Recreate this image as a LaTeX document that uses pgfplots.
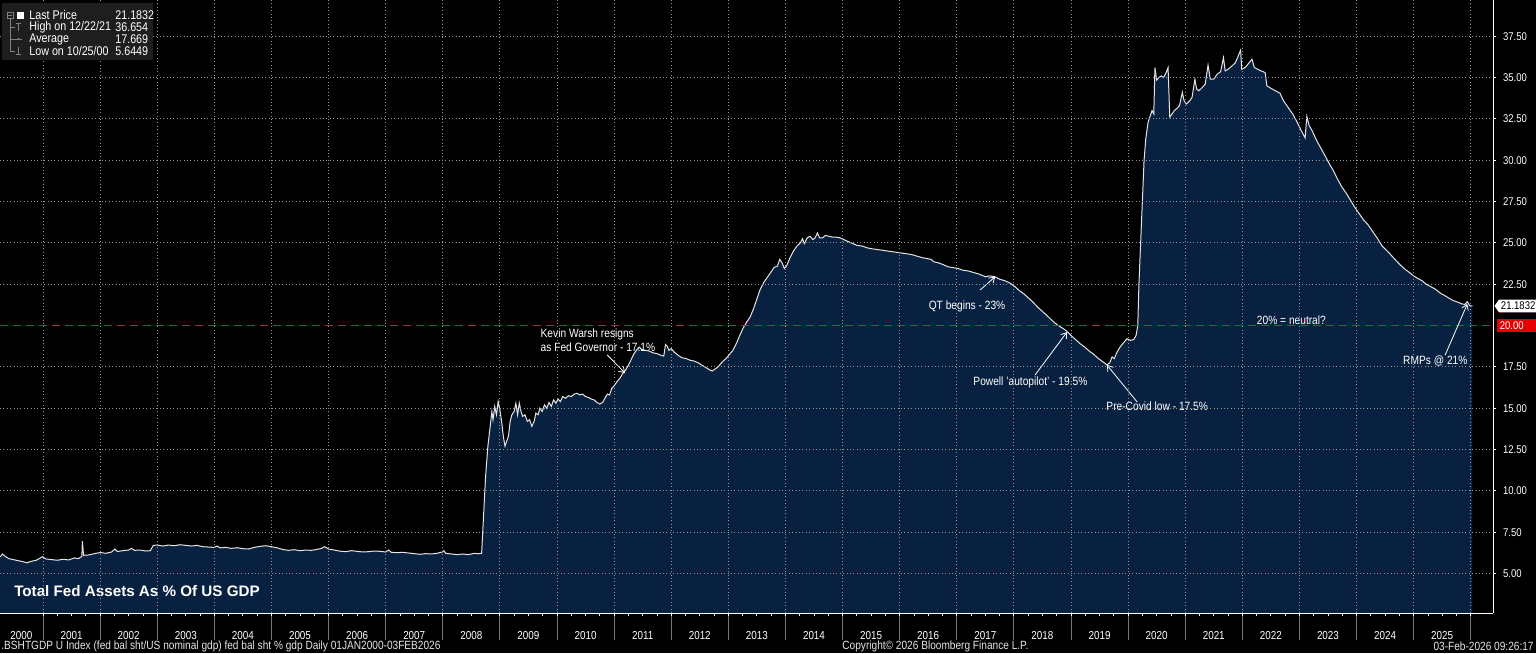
\documentclass[border=0pt]{standalone}
\usepackage{pgfplots}
\pgfplotsset{compat=1.18}
\usepackage{pgfplotstable}
\usepackage{fontspec}
\setmainfont{Liberation Sans}[FakeStretch=0.85]
\newfontfamily\titlefont{Liberation Sans}
\usetikzlibrary{arrows.meta,shapes.symbols}

\definecolor{navy}{RGB}{9,33,64}
\definecolor{gridc}{RGB}{150,150,150}
\definecolor{sepc}{RGB}{120,120,120}
\definecolor{dashred}{RGB}{175,40,62}
\definecolor{boxred}{RGB}{230,0,0}
\definecolor{legbg}{RGB}{30,30,30}
\definecolor{linec}{RGB}{228,228,228}

\tikzset{
    ann/.style={white, font=\fontsize{6}{7}\selectfont, inner sep=0.5pt},
    annarrow/.style={white, line width=0.4pt, -{Straight Barb[length=2.5pt,width=3.5pt]}},
}

% Fed assets as % of GDP (year, percent)
\pgfplotstableread{
year val
2000.25 6.00
2000.29 6.18
2000.33 6.05
2000.40 5.90
2000.48 5.84
2000.56 5.78
2000.64 5.72
2000.72 5.65
2000.80 5.74
2000.88 5.80
2000.95 5.93
2000.99 6.02
2001.05 5.88
2001.15 5.84
2001.25 5.80
2001.35 5.86
2001.45 5.82
2001.55 5.94
2001.62 5.90
2001.68 6.03
2001.69 6.95
2001.71 6.10
2001.80 6.12
2001.90 6.20
2002.00 6.27
2002.10 6.22
2002.20 6.30
2002.26 6.48
2002.30 6.33
2002.40 6.38
2002.50 6.42
2002.55 6.52
2002.60 6.40
2002.70 6.42
2002.80 6.36
2002.88 6.38
2002.93 6.70
2003.00 6.72
2003.10 6.66
2003.20 6.72
2003.30 6.68
2003.40 6.74
2003.50 6.70
2003.60 6.66
2003.70 6.70
2003.80 6.62
2003.90 6.60
2004.00 6.58
2004.05 6.66
2004.10 6.55
2004.20 6.58
2004.30 6.52
2004.40 6.56
2004.50 6.50
2004.60 6.48
2004.70 6.58
2004.80 6.64
2004.90 6.68
2005.00 6.62
2005.10 6.55
2005.20 6.45
2005.30 6.40
2005.40 6.44
2005.50 6.38
2005.60 6.42
2005.70 6.40
2005.80 6.46
2005.88 6.52
2005.93 6.62
2006.00 6.48
2006.10 6.42
2006.20 6.35
2006.30 6.32
2006.40 6.38
2006.50 6.34
2006.60 6.30
2006.70 6.32
2006.80 6.36
2006.90 6.34
2007.00 6.30
2007.05 6.42
2007.10 6.28
2007.20 6.26
2007.30 6.28
2007.40 6.24
2007.50 6.20
2007.60 6.16
2007.70 6.20
2007.80 6.18
2007.90 6.22
2007.99 6.30
2008.02 6.38
2008.05 6.22
2008.15 6.18
2008.25 6.14
2008.35 6.18
2008.45 6.14
2008.55 6.22
2008.62 6.20
2008.68 6.22
2008.71 8.20
2008.75 10.9
2008.79 12.7
2008.83 13.9
2008.86 14.8
2008.88 14.3
2008.91 15.1
2008.94 14.6
2008.97 15.4
2009.00 14.9
2009.03 14.2
2009.06 13.3
2009.09 12.7
2009.12 13.0
2009.15 13.3
2009.18 14.2
2009.21 14.6
2009.25 14.8
2009.28 15.3
2009.31 14.6
2009.34 15.3
2009.37 14.8
2009.40 14.5
2009.44 14.6
2009.48 14.2
2009.52 14.3
2009.56 13.9
2009.60 14.2
2009.63 14.7
2009.67 14.6
2009.70 15.0
2009.74 14.8
2009.78 15.2
2009.82 15.0
2009.86 15.35
2009.90 15.1
2009.94 15.5
2009.98 15.3
2010.02 15.55
2010.06 15.4
2010.10 15.7
2010.15 15.6
2010.20 15.75
2010.25 15.7
2010.30 15.85
2010.35 15.9
2010.40 15.8
2010.45 15.85
2010.50 15.7
2010.55 15.65
2010.60 15.55
2010.65 15.5
2010.70 15.35
2010.75 15.25
2010.80 15.35
2010.84 15.6
2010.88 15.85
2010.92 15.8
2010.96 16.2
2011.00 16.35
2011.05 16.6
2011.10 16.8
2011.15 17.1
2011.20 17.3
2011.25 17.6
2011.30 17.95
2011.35 18.3
2011.40 18.55
2011.44 18.7
2011.48 18.55
2011.55 18.5
2011.62 18.45
2011.68 18.35
2011.75 18.3
2011.82 18.2
2011.87 18.15
2011.90 18.85
2011.93 18.75
2011.96 18.5
2012.00 18.6
2012.05 18.4
2012.12 18.2
2012.19 18.05
2012.26 18.0
2012.33 17.9
2012.40 17.85
2012.47 17.75
2012.54 17.6
2012.61 17.45
2012.68 17.3
2012.72 17.25
2012.76 17.35
2012.82 17.5
2012.87 17.7
2012.91 17.85
2012.96 18.0
2013.02 18.25
2013.08 18.5
2013.14 18.9
2013.20 19.4
2013.26 19.85
2013.32 20.2
2013.38 20.5
2013.44 21.0
2013.50 21.6
2013.56 22.2
2013.62 22.6
2013.68 22.9
2013.74 23.2
2013.80 23.5
2013.86 23.6
2013.90 24.0
2013.94 23.8
2013.98 23.45
2014.02 23.6
2014.08 24.1
2014.14 24.5
2014.20 24.8
2014.26 25.0
2014.30 25.25
2014.33 24.95
2014.38 25.3
2014.43 25.4
2014.48 25.2
2014.52 25.3
2014.56 25.6
2014.60 25.3
2014.65 25.3
2014.70 25.45
2014.76 25.4
2014.82 25.35
2014.88 25.35
2014.96 25.3
2015.05 25.15
2015.15 25.0
2015.25 24.85
2015.35 24.8
2015.43 24.7
2015.50 24.65
2015.60 24.6
2015.70 24.55
2015.80 24.5
2015.90 24.45
2016.00 24.4
2016.10 24.35
2016.20 24.3
2016.30 24.2
2016.40 24.1
2016.48 24.05
2016.55 24.0
2016.60 23.85
2016.67 23.8
2016.75 23.7
2016.85 23.55
2016.94 23.5
2017.02 23.45
2017.10 23.35
2017.20 23.3
2017.30 23.2
2017.40 23.1
2017.50 22.95
2017.58 23.0
2017.67 22.95
2017.75 22.8
2017.85 22.7
2017.94 22.55
2018.02 22.35
2018.10 22.1
2018.18 21.9
2018.26 21.65
2018.34 21.4
2018.42 21.1
2018.50 20.85
2018.58 20.6
2018.64 20.4
2018.72 20.15
2018.80 19.95
2018.87 19.8
2018.93 19.65
2019.00 19.4
2019.08 19.15
2019.16 18.9
2019.24 18.7
2019.32 18.45
2019.40 18.25
2019.48 18.0
2019.56 17.8
2019.63 17.62
2019.68 17.75
2019.72 18.1
2019.76 18.0
2019.80 18.35
2019.86 18.7
2019.92 18.95
2019.98 19.2
2020.04 19.1
2020.10 19.15
2020.14 19.4
2020.17 20.0
2020.19 22.5
2020.22 25.0
2020.25 27.5
2020.28 30.0
2020.31 31.3
2020.35 32.3
2020.39 32.7
2020.42 33.0
2020.45 32.8
2020.47 35.6
2020.50 34.85
2020.54 35.0
2020.58 35.1
2020.62 35.0
2020.66 35.25
2020.70 35.6
2020.73 32.6
2020.77 32.8
2020.81 33.0
2020.86 33.15
2020.90 33.3
2020.95 34.1
2020.98 33.6
2021.02 33.4
2021.08 33.6
2021.12 33.8
2021.17 34.9
2021.20 34.3
2021.24 34.2
2021.30 34.4
2021.35 34.6
2021.40 35.75
2021.44 34.9
2021.50 34.9
2021.56 35.2
2021.62 35.35
2021.67 36.2
2021.70 35.4
2021.75 35.5
2021.82 35.7
2021.88 35.9
2021.97 36.65
2021.99 35.5
2022.05 35.6
2022.12 35.9
2022.17 36.1
2022.21 35.6
2022.27 35.5
2022.33 35.4
2022.40 35.3
2022.43 34.5
2022.50 34.35
2022.58 34.2
2022.66 34.05
2022.72 33.6
2022.80 33.2
2022.89 32.75
2022.96 32.3
2023.03 31.8
2023.10 31.35
2023.13 32.65
2023.17 32.1
2023.22 31.8
2023.30 31.2
2023.38 30.7
2023.46 30.2
2023.52 29.8
2023.59 29.4
2023.66 28.9
2023.74 28.4
2023.82 28.0
2023.89 27.6
2023.96 27.2
2024.04 26.8
2024.12 26.4
2024.20 26.1
2024.28 25.7
2024.36 25.3
2024.45 24.8
2024.54 24.5
2024.62 24.2
2024.70 23.9
2024.77 23.65
2024.85 23.4
2024.93 23.2
2025.00 23.0
2025.07 22.85
2025.15 22.7
2025.22 22.5
2025.30 22.35
2025.38 22.2
2025.47 21.95
2025.55 21.8
2025.62 21.65
2025.70 21.5
2025.78 21.4
2025.85 21.3
2025.90 21.28
2025.94 21.45
2025.98 21.2
2026.03 21.18
}\fedgdp

\begin{document}
\begin{tikzpicture}
\fill[black] (0,-20pt) rectangle (768pt,306.5pt);
\useasboundingbox (0,-20pt) rectangle (768pt,306.5pt);
% x axis runs in years since 2000
\begin{axis}[
    at={(0,0)}, anchor=south west,
    scale only axis, width=746.5pt, height=306.5pt,
    xmin=0.247, xmax=26.39, ymin=2.61, ymax=39.69,
    axis x line*=bottom, axis y line*=right,
    axis line style={white, line width=0.5pt, -},
    axis on top,
    clip mode=individual,
    xtick={1,...,26}, xticklabels={},
    minor x tick num=3,
    ytick={5,7.5,10,12.5,15,17.5,22.5,25,27.5,30,32.5,35,37.5},
    minor y tick num=1,
    grid=major,
    major grid style={gridc, line width=0.4pt, dash pattern=on 0.5pt off 1.2pt},
    tick align=outside,
    major tick length=1.5pt, minor tick length=1.5pt,
    tick style={white, line width=0.4pt},
    yticklabel style={/pgf/number format/.cd, fixed, fixed zerofill, precision=2, assume math mode=true,
        /tikz/.cd, font=\fontsize{5.6}{6}\selectfont, white},
    xticklabel style={font=\fontsize{5.8}{6}\selectfont, white, yshift=-4pt},
    extra x ticks={0.62,1.5,2.5,3.5,4.5,5.5,6.5,7.5,8.5,9.5,10.5,11.5,12.5,
        13.5,14.5,15.5,16.5,17.5,18.5,19.5,20.5,21.5,22.5,23.5,24.5,25.5},
    extra x tick labels={2000,2001,2002,2003,2004,2005,2006,2007,2008,2009,2010,2011,2012,
        2013,2014,2015,2016,2017,2018,2019,2020,2021,2022,2023,2024,2025},
    extra x tick style={grid=none, tick style={draw=none}},
]
\addplot[fill=navy, draw=none, forget plot] table[x expr=\thisrow{year}-2000, y=val]{\fedgdp} \closedcycle;
\addplot[linec, line width=0.5pt] table[x expr=\thisrow{year}-2000, y=val]{\fedgdp};
\addplot[color=dashred, line width=0.8pt, dash pattern=on 4pt off 2.5pt] coordinates {(0.247,20) (26.39,20)};

% year separators below the axis
\pgfplotsinvokeforeach{1,...,26}{\draw[sepc, line width=0.4pt] (axis cs:#1,2.61) -- ++(0pt,-13.5pt);}

% title and annotations
\node[anchor=west, inner sep=0pt, white, font=\titlefont\bfseries\fontsize{7.6}{8}\selectfont] at (axis cs:0.49,3.94) {Total Fed Assets As \% Of US GDP};
\node[ann, anchor=west, align=left] at (axis cs:9.69,19.1) {Kevin Warsh resigns\\as Fed Governor - 17.1\%};
\draw[annarrow] (axis cs:10.88,18.22) -- (axis cs:11.19,17.13);
\node[ann] at (axis cs:17.18,21.18) {QT begins - 23\%};
\draw[annarrow] (axis cs:17.41,22.15) -- (axis cs:17.67,22.94);
\node[ann] at (axis cs:18.29,16.58) {Powell 'autopilot' - 19.5\%};
\draw[annarrow] (axis cs:18.37,17.0) -- (axis cs:18.93,19.6);
\node[ann] at (axis cs:20.51,15.13) {Pre-Covid low - 17.5\%};
\draw[annarrow] (axis cs:20.16,15.37) -- (axis cs:19.63,17.61);
\node[ann] at (axis cs:22.86,20.34) {20\% = neutral?};
\node[ann] at (axis cs:25.38,17.86) {RMPs @ 21\%};
\draw[annarrow] (axis cs:25.55,18.2) -- (axis cs:25.94,21.3);

% right-hand value tags
\node[signal, signal to=west, signal pointer angle=110, fill=white, text=black, inner xsep=1pt, inner ysep=1.2pt,
    font=\fontsize{5.6}{6}\selectfont, anchor=west] at ([xshift=0.5pt]axis cs:26.39,21.1832) {21.1832};
\node[fill=boxred, text=white, inner xsep=1.2pt, inner ysep=1.2pt, text width=17.5pt, align=left,
    font=\fontsize{5.6}{6}\selectfont, anchor=west] at ([xshift=2pt]axis cs:26.39,20) {20.00};
\end{axis}

% legend box, top left
\fill[legbg] (1pt,305pt) rectangle (76.5pt,276.5pt);
\begin{scope}[font=\fontsize{6.3}{7}\selectfont, white, inner sep=0pt]
\node[anchor=west] at (14.5pt,299pt) {Last Price};
\node[anchor=west] at (57.5pt,299pt) {21.1832};
\node[anchor=west] at (14.5pt,293pt) {High on 12/22/21};
\node[anchor=west] at (57.5pt,293pt) {36.654};
\node[anchor=west] at (14.5pt,287pt) {Average};
\node[anchor=west] at (57.5pt,287pt) {17.669};
\node[anchor=west] at (14.5pt,281pt) {Low on 10/25/00};
\node[anchor=west] at (57.5pt,281pt) {5.6449};
\end{scope}
\draw[gray, line width=0.3pt] (3.5pt,297.5pt) rectangle (6.5pt,300.5pt);
\draw[gray, line width=0.3pt] (4.2pt,299pt) -- (5.8pt,299pt);
\fill[white] (8.5pt,297.2pt) rectangle (12pt,300.7pt);
\draw[gray, line width=0.3pt] (5pt,297.5pt) -- (5pt,281pt);
\draw[gray, line width=0.3pt] (5pt,293pt) -- (7.5pt,293pt) (5pt,287pt) -- (7.5pt,287pt) (5pt,281pt) -- (7.5pt,281pt);
\draw[gray, line width=0.3pt] (8pt,295pt) -- (10.5pt,295pt) (9.25pt,295pt) -- (9.25pt,291pt);
\draw[gray, line width=0.3pt] (7.5pt,287pt) -- (11pt,287pt);
\fill[gray] (9.25pt,287pt) circle (0.6pt);
\draw[gray, line width=0.3pt] (9.25pt,283pt) -- (9.25pt,279.5pt) (8pt,279.5pt) -- (10.5pt,279.5pt);

% footer
\begin{scope}[font=\fontsize{5.95}{6}\selectfont, white!90!black, inner sep=0pt]
\node[anchor=west] at (0.5pt,-16.5pt) {.BSHTGDP U Index (fed bal sht/US nominal gdp) fed bal sht \% gdp Daily 01JAN2000-03FEB2026};
\node[anchor=west] at (421pt,-16.5pt) {Copyright\textcopyright{} 2026 Bloomberg Finance L.P.};
\node[anchor=east] at (767pt,-16.5pt) {03-Feb-2026 09:26:17};
\end{scope}
\end{tikzpicture}
\end{document}
